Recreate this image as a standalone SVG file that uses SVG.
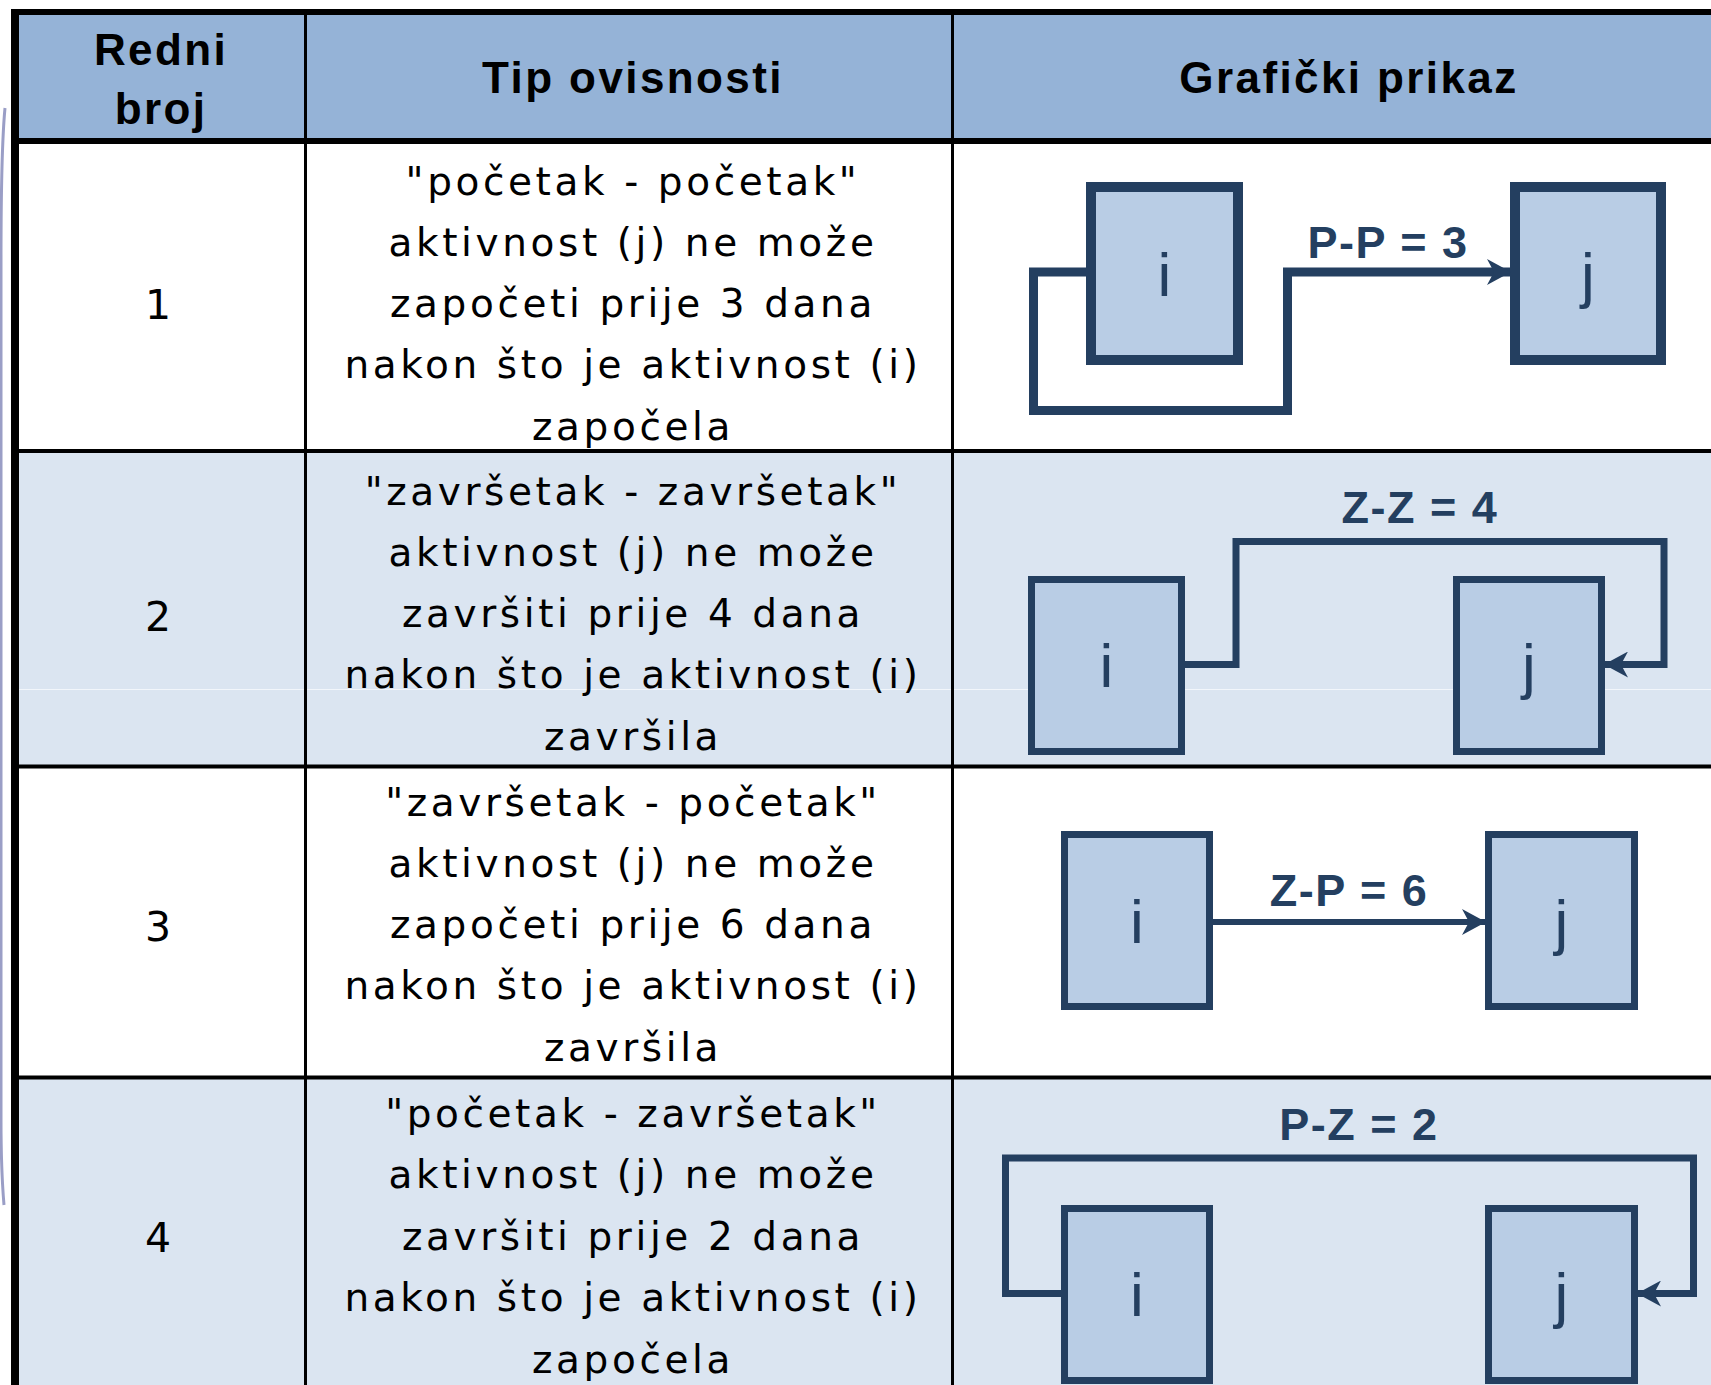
<svg xmlns="http://www.w3.org/2000/svg" width="1711" height="1385" viewBox="0 0 1711 1385">
<style>
.hdr{font-family:"Liberation Sans",Arial,sans-serif;font-weight:bold;font-size:44px;letter-spacing:2.4px;fill:#000;text-anchor:middle}
.body{font-family:"DejaVu Sans","Liberation Sans",sans-serif;font-size:39px;letter-spacing:3.6px;fill:#000;text-anchor:middle}
.num{font-family:"DejaVu Sans","Liberation Sans",sans-serif;font-size:41px;fill:#000;text-anchor:middle}
.lbl{font-family:"Liberation Sans",Arial,sans-serif;font-weight:bold;font-size:45px;letter-spacing:1.5px;fill:#243F60;text-anchor:middle}
.box{fill:#B9CDE5;stroke:#243F60}
.let{font-family:"Liberation Sans",Arial,sans-serif;font-size:62px;fill:#243F60;text-anchor:middle}
.con{fill:none;stroke:#243F60;stroke-linejoin:miter;stroke-linecap:butt}
.grid{stroke:#000;fill:none}
</style>
<defs>
<marker id="arr" viewBox="0 0 24 26" refX="23" refY="13" markerWidth="24" markerHeight="26" markerUnits="userSpaceOnUse" orient="auto">
<path d="M0,0 L24,13 L0,26 L7,13 Z" fill="#243F60"/>
</marker>
</defs>
<rect x="0" y="0" width="1711" height="1385" fill="#fff"/>
<path d="M5,108 Q1,150 1,260 L1,1120 Q1,1170 4,1205" fill="none" stroke="#9A9EC6" stroke-width="3"/>
<g id="table">
<rect x="15" y="12" width="1696" height="129" fill="#95B3D7"/>
<rect x="15" y="141" width="1696" height="311" fill="#fff"/>
<rect x="15" y="452" width="1696" height="314" fill="#DBE5F1"/>
<rect x="15" y="766" width="1696" height="311" fill="#fff"/>
<rect x="15" y="1077" width="1696" height="308" fill="#DBE5F1"/>
<line x1="19" y1="689.5" x2="1711" y2="689.5" stroke="#F2F6FB" stroke-width="1.2"/>
<line class="grid" x1="11" y1="12" x2="1711" y2="12" stroke-width="6"/>
<line class="grid" x1="11" y1="141" x2="1711" y2="141" stroke-width="6"/>
<line class="grid" x1="11" y1="451" x2="1711" y2="451" stroke-width="4"/>
<line class="grid" x1="11" y1="766.5" x2="1711" y2="766.5" stroke-width="4"/>
<line class="grid" x1="11" y1="1077.5" x2="1711" y2="1077.5" stroke-width="4"/>
<line class="grid" x1="15" y1="9" x2="15" y2="1385" stroke-width="8"/>
<line class="grid" x1="305.5" y1="12" x2="305.5" y2="1385" stroke-width="3"/>
<line class="grid" x1="952.5" y1="12" x2="952.5" y2="1385" stroke-width="3"/>
</g>
<g id="header">
<text class="hdr" x="161" y="65">Redni</text>
<text class="hdr" x="161" y="124">broj</text>
<text class="hdr" x="633" y="93">Tip ovisnosti</text>
<text class="hdr" x="1349" y="93">Grafički prikaz</text>
</g>
<g id="row1-text">
<text class="num" x="158" y="319">1</text>
<text class="body" x="633" y="195">"početak - početak"</text>
<text class="body" x="633" y="256">aktivnost (j) ne može</text>
<text class="body" x="633" y="317">započeti prije 3 dana</text>
<text class="body" x="633" y="378">nakon što je aktivnost (i)</text>
<text class="body" x="633" y="440">započela</text>
</g>
<g id="row2-text">
<text class="num" x="158" y="631">2</text>
<text class="body" x="633" y="505">"završetak - završetak"</text>
<text class="body" x="633" y="566">aktivnost (j) ne može</text>
<text class="body" x="633" y="627">završiti prije 4 dana</text>
<text class="body" x="633" y="688">nakon što je aktivnost (i)</text>
<text class="body" x="633" y="750">završila</text>
</g>
<g id="row3-text">
<text class="num" x="158" y="941">3</text>
<text class="body" x="633" y="816">"završetak - početak"</text>
<text class="body" x="633" y="877">aktivnost (j) ne može</text>
<text class="body" x="633" y="938">započeti prije 6 dana</text>
<text class="body" x="633" y="999">nakon što je aktivnost (i)</text>
<text class="body" x="633" y="1061">završila</text>
</g>
<g id="row4-text">
<text class="num" x="158" y="1252">4</text>
<text class="body" x="633" y="1127">"početak - završetak"</text>
<text class="body" x="633" y="1188">aktivnost (j) ne može</text>
<text class="body" x="633" y="1250">završiti prije 2 dana</text>
<text class="body" x="633" y="1311">nakon što je aktivnost (i)</text>
<text class="body" x="633" y="1373">započela</text>
</g>
<g id="r1-i"><rect class="box" x="1091" y="187" width="147" height="173" stroke-width="10"/><text class="let" x="1164.5" y="296">i</text></g>
<g id="r1-j"><rect class="box" x="1515" y="187" width="146" height="173" stroke-width="10"/><text class="let" x="1588" y="296">j</text></g>
<g id="r2-i"><rect class="box" x="1031.5" y="579.5" width="150" height="172" stroke-width="7"/><text class="let" x="1106.5" y="687">i</text></g>
<g id="r2-j"><rect class="box" x="1456.5" y="579.5" width="145" height="172" stroke-width="7"/><text class="let" x="1529" y="687">j</text></g>
<g id="r3-i"><rect class="box" x="1064.5" y="834.5" width="145" height="172" stroke-width="7"/><text class="let" x="1137" y="943">i</text></g>
<g id="r3-j"><rect class="box" x="1488.5" y="834.5" width="146" height="172" stroke-width="7"/><text class="let" x="1561.5" y="943">j</text></g>
<g id="r4-i"><rect class="box" x="1064.5" y="1208.5" width="145" height="172" stroke-width="7"/><text class="let" x="1137" y="1316">i</text></g>
<g id="r4-j"><rect class="box" x="1488.5" y="1208.5" width="146" height="172" stroke-width="7"/><text class="let" x="1561.5" y="1316">j</text></g>
<g id="connectors">
<path class="con" d="M1086,272 H1033.5 V410.5 H1287.5 V272 H1510" stroke-width="9" marker-end="url(#arr)"/>
<path class="con" d="M1185,664.5 H1236 V541.5 H1664 V664.5 H1605" stroke-width="7" marker-end="url(#arr)"/>
<path class="con" d="M1213,922 H1485" stroke-width="6" marker-end="url(#arr)"/>
<path class="con" d="M1061,1293.5 H1005.5 V1158 H1693.5 V1293.5 H1638" stroke-width="7" marker-end="url(#arr)"/>
<text class="lbl" x="1388" y="258">P-P = 3</text>
<text class="lbl" x="1420" y="523">Z-Z = 4</text>
<text class="lbl" x="1349" y="906">Z-P = 6</text>
<text class="lbl" x="1359" y="1140">P-Z = 2</text>
</g>
</svg>
